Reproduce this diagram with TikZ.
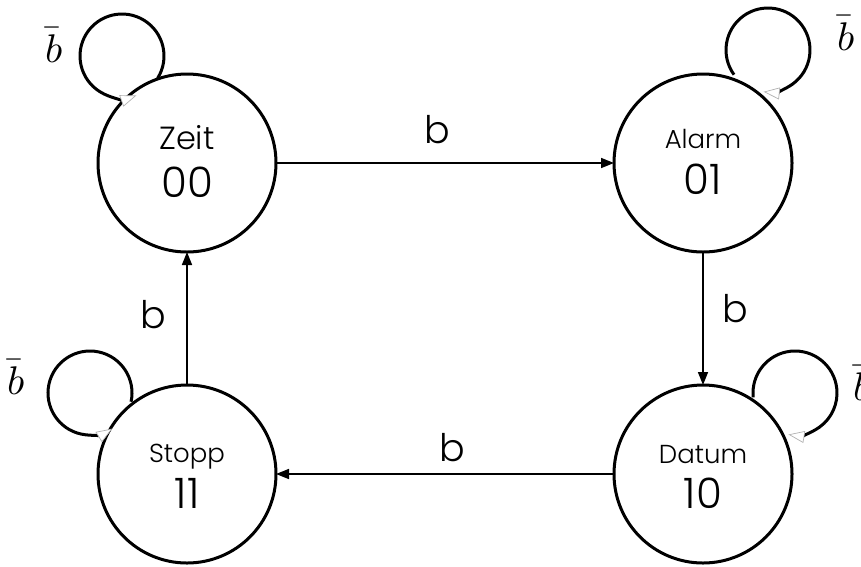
\documentclass[tikz,border=0pt]{standalone}
\usepackage{fontspec}
\usepackage{unicode-math}
\setmainfont{Poppins}[UprightFont=* Light]
\setmathfont{Latin Modern Math}
\usetikzlibrary{arrows.meta,calc}

\begin{document}
\begin{tikzpicture}[x=1pt,y=-1pt,
  state/.style={circle,draw,line width=3pt,minimum size=178pt,inner sep=0pt,outer sep=0pt},
  sname/.style={anchor=base,font=\fontsize{26}{30}\selectfont},
  scode/.style={anchor=base,font=\fontsize{42}{48}\selectfont},
  trans/.style={line width=1.6pt,-{Triangle[length=13pt,width=10pt]}},
  selfloop/.style={line width=3pt,-{Triangle[length=16pt,width=12pt,line width=0.7pt,color=gray!60,fill=white]}},
  tlabel/.style={anchor=base,font=\fontsize{38}{44}\selectfont},
  nlabel/.style={anchor=base,font=\fontsize{40}{46}\selectfont}
]
\useasboundingbox (0,0) rectangle (861,566);

% states
\node[state] (zeit)  at (187,163) {};
\node[state] (alarm) at (703,163) {};
\node[state] (datum) at (703,474) {};
\node[state] (stopp) at (187,474) {};

\node[sname,font=\fontsize{32}{36}\selectfont] (zeitn) at ($(zeit)+(0,-14)$) {Zeit};
\node[scode] (zeitc) at ($(zeit)+(0,34)$) {00};
\node[sname] (alarmn) at ($(alarm)+(0,-15)$) {Alarm};
\node[scode] (alarmc) at ($(alarm)+(0,31)$) {01};
\node[sname] (datumn) at ($(datum)+(0,-11)$) {Datum};
\node[scode] (datumc) at ($(datum)+(0,34)$) {10};
\node[sname] (stoppn) at ($(stopp)+(0,-12)$) {Stopp};
\node[scode] (stoppc) at ($(stopp)+(0,34)$) {11};

% transitions on b
\draw[trans] (zeit.east) -- (alarm.west);
\draw[trans] (alarm.south) -- (datum.north);
\draw[trans] (datum.west) -- (stopp.east);
\draw[trans] (stopp.north) -- (zeit.south);

\node[tlabel] (b1) at (437,143) {b};
\node[tlabel] (b2) at (735,322) {b};
\node[tlabel] (b3) at (452,461) {b};
\node[tlabel] (b4) at (153,328) {b};

% self-loops on not-b
\coordinate (lz) at (122,56);
\coordinate (la) at (768,50);
\coordinate (ld) at (795,393);
\coordinate (ls) at (90,393);

\draw[selfloop] ($(lz)+(32:42)$) arc[start angle=32,end angle=-290,radius=42];
\draw[selfloop] ($(la)+(144:42)$) arc[start angle=144,end angle=456,radius=42];
\draw[selfloop] ($(ld)+(174:42)$) arc[start angle=174,end angle=459,radius=42];
\draw[selfloop] ($(ls)+(12:42)$) arc[start angle=12,end angle=-302,radius=42];

\node[nlabel] (nz) at (54,62) {$\bar{b}$};
\node[nlabel] (na) at (846,50) {$\bar{b}$};
\node[nlabel] (nd) at (862,400) {$\bar{b}$};
\node[nlabel] (ns) at (16,394) {$\bar{b}$};
\end{tikzpicture}
\end{document}
